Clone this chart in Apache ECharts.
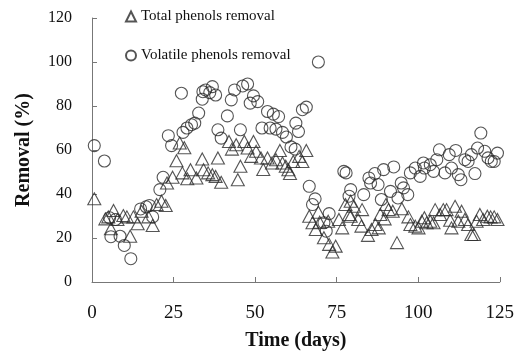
<!DOCTYPE html>
<html>
<head>
<meta charset="utf-8">
<script src="https://cdn.jsdelivr.net/npm/echarts@6/dist/echarts.min.js"></script>
<style>
  html, body { margin: 0; padding: 0; background: #fff; }
  #chart { width: 517px; height: 356px; }
</style>
</head>
<body>
<div id="chart"></div>
<script>
// Removal efficiency over time: [day, removal %]
var totalPhenols = [
  [0.7, 37.8], [4.1, 28.7], [5.0, 29.6], [5.8, 24.2], [6.6, 32.5], [7.8, 28.4],
  [9.6, 30.2], [10.7, 29.6], [11.7, 20.8], [12.7, 29.6], [14.0, 26.5], [15.2, 32.2],
  [17.3, 29.6], [18.6, 25.7], [19.8, 35.2], [21.3, 36.7], [22.6, 34.8], [23.0, 45.0],
  [24.7, 47.6], [25.9, 55.1], [26.9, 63.2], [27.7, 49.6], [28.3, 61.0], [29.2, 46.9],
  [30.2, 51.0], [32.0, 47.3], [33.8, 55.9], [34.2, 51.0], [35.6, 49.6], [36.9, 48.8],
  [37.9, 48.0], [38.6, 56.4], [39.6, 45.3], [42.0, 63.9], [42.9, 60.4], [44.2, 62.4],
  [44.7, 46.5], [45.5, 52.6], [46.7, 63.9], [47.7, 60.9], [48.8, 57.1], [49.5, 63.9],
  [50.3, 59.4], [51.8, 56.4], [52.5, 51.1], [53.8, 56.4], [55.2, 54.1], [56.4, 55.6],
  [57.6, 59.8], [58.4, 54.1], [59.4, 52.6], [60.2, 51.0], [60.7, 49.3], [61.7, 54.8],
  [63.5, 57.1], [64.5, 54.8], [65.7, 59.8], [66.6, 29.9], [67.6, 26.9], [68.6, 23.9],
  [69.4, 31.7], [69.8, 27.2], [71.1, 20.1], [72.4, 27.6], [72.7, 17.1], [73.7, 13.6],
  [74.7, 16.3], [75.7, 28.4], [76.7, 24.6], [77.7, 35.2], [78.8, 30.7], [79.3, 36.7],
  [79.3, 29.9], [80.3, 34.4], [81.6, 28.4], [82.6, 25.4], [82.8, 32.9], [84.6, 21.2],
  [85.7, 23.9], [86.9, 26.1], [87.9, 24.6], [88.4, 30.7], [89.7, 28.7], [90.1, 35.2],
  [90.9, 32.9], [92.2, 32.2], [93.5, 17.9], [95.0, 33.3], [97.0, 29.6], [97.6, 26.1],
  [99.1, 25.4], [100.1, 24.6], [101.1, 27.6], [101.9, 29.2], [102.6, 26.9], [103.7, 27.6],
  [104.7, 26.9], [105.2, 32.9], [106.7, 30.7], [107.7, 32.9], [108.7, 32.9], [109.8, 28.1],
  [110.2, 24.6], [111.3, 34.4], [112.3, 27.6], [113.3, 32.2], [114.3, 28.4], [115.3, 26.1],
  [116.3, 21.6], [117.1, 21.6], [117.9, 27.6], [118.9, 30.7], [119.9, 28.4], [121.2, 29.9],
  [122.2, 29.6], [123.3, 29.6], [124.3, 28.4]
];

var volatilePhenols = [
  [0.7, 62.0], [3.8, 55.0], [5.4, 29.2], [5.8, 20.6], [7.2, 28.4], [8.6, 20.8],
  [9.9, 16.6], [11.9, 10.6], [14.9, 33.2], [16.6, 34.2], [17.6, 34.8], [18.6, 29.6],
  [20.8, 42.0], [21.8, 47.6], [23.4, 66.5], [24.4, 62.0], [27.4, 85.8], [27.9, 68.0],
  [29.1, 70.0], [30.5, 71.5], [31.5, 72.2], [32.7, 76.8], [33.8, 83.1], [34.0, 86.5],
  [34.8, 87.3], [36.1, 86.1], [36.9, 88.8], [37.9, 85.0], [38.6, 69.2], [39.6, 65.4],
  [41.5, 75.5], [42.7, 82.8], [43.7, 87.3], [45.5, 69.2], [46.2, 89.1], [47.7, 90.0],
  [48.5, 81.3], [49.5, 84.6], [50.8, 82.0], [52.1, 70.0], [53.8, 77.5], [54.6, 70.0],
  [55.6, 76.3], [56.4, 69.5], [57.2, 75.2], [58.4, 68.0], [59.6, 65.9], [61.0, 61.4],
  [62.3, 60.4], [62.5, 72.2], [63.3, 68.4], [64.5, 78.3], [65.7, 79.5], [66.6, 43.5],
  [67.6, 35.2], [68.4, 37.8], [69.4, 100.0], [71.1, 26.9], [71.8, 23.1], [72.7, 31.1],
  [77.2, 50.3], [77.9, 49.6], [78.8, 39.0], [79.3, 42.0], [83.3, 39.7], [84.9, 47.3],
  [85.4, 45.0], [86.7, 49.3], [87.7, 44.3], [88.7, 37.5], [89.4, 51.1], [91.5, 41.2],
  [92.5, 52.3], [93.8, 38.2], [94.8, 45.0], [95.5, 42.8], [96.8, 39.7], [97.6, 49.6],
  [99.1, 51.8], [100.6, 48.0], [101.6, 54.1], [101.9, 51.8], [103.7, 53.3], [104.7, 50.3],
  [105.7, 55.6], [106.5, 60.1], [108.2, 49.6], [109.5, 57.9], [110.2, 51.8], [111.5, 59.8],
  [112.3, 48.8], [113.1, 46.5], [114.3, 55.6], [115.3, 54.8], [116.3, 57.9], [117.4, 49.3],
  [118.2, 60.9], [119.2, 67.7], [120.4, 59.4], [121.4, 56.4], [122.4, 54.8], [123.3, 54.8],
  [124.3, 58.6]
];

var seriesNames = ['Total phenols removal', 'Volatile phenols removal'];
var xTicks = { min: 0, max: 125, step: 25 };
var yTicks = { min: 0, max: 120, step: 20 };

var serif = '"Liberation Serif", "Times New Roman", serif';
var axisGray = '#777';
var markStroke = '#2a2a2a';

var chart = echarts.init(document.getElementById('chart'), null, { renderer: 'canvas' });

chart.setOption({
  animation: false,
  backgroundColor: '#fff',
  grid: { left: 92, right: 17, top: 18, bottom: 73, containLabel: false },
  legend: {
    orient: 'vertical',
    left: 125,
    top: 9,
    padding: 0,
    itemWidth: 10,
    itemHeight: 10,
    itemGap: 24,
    textStyle: { fontFamily: serif, fontSize: 15, color: '#111', padding: [2, 0, 0, 0] },
    data: [
      { name: seriesNames[0], icon: 'triangle' },
      { name: seriesNames[1], icon: 'circle' }
    ]
  },
  xAxis: {
    type: 'value',
    min: xTicks.min,
    max: xTicks.max,
    interval: xTicks.step,
    name: 'Time (days)',
    nameLocation: 'middle',
    nameGap: 49,
    nameTextStyle: { fontFamily: serif, fontSize: 20, fontWeight: 'bold', color: '#111' },
    axisLine: { show: true, lineStyle: { color: axisGray, width: 1 } },
    axisTick: { show: true, inside: true, length: 5, lineStyle: { color: axisGray } },
    axisLabel: { fontFamily: serif, fontSize: 19, color: '#111', margin: 22 },
    splitLine: { show: false }
  },
  yAxis: {
    type: 'value',
    min: yTicks.min,
    max: yTicks.max,
    interval: yTicks.step,
    name: 'Removal (%)',
    nameLocation: 'middle',
    nameGap: 58,
    nameTextStyle: { fontFamily: serif, fontSize: 20, fontWeight: 'bold', color: '#111' },
    axisLine: { show: true, lineStyle: { color: axisGray, width: 1 } },
    axisTick: { show: true, inside: true, length: 5, lineStyle: { color: axisGray } },
    axisLabel: { fontFamily: serif, fontSize: 16, color: '#111', margin: 20 },
    splitLine: { show: false }
  },
  series: [
    {
      name: seriesNames[0],
      type: 'scatter',
      symbol: 'triangle',
      symbolSize: [13, 12],
      itemStyle: { color: 'rgba(0,0,0,0)', borderColor: markStroke, borderWidth: 1.1 },
      data: totalPhenols
    },
    {
      name: seriesNames[1],
      type: 'scatter',
      symbol: 'circle',
      symbolSize: 12,
      itemStyle: { color: 'rgba(0,0,0,0)', borderColor: markStroke, borderWidth: 1.1 },
      data: volatilePhenols
    }
  ]
});
</script>
</body>
</html>
